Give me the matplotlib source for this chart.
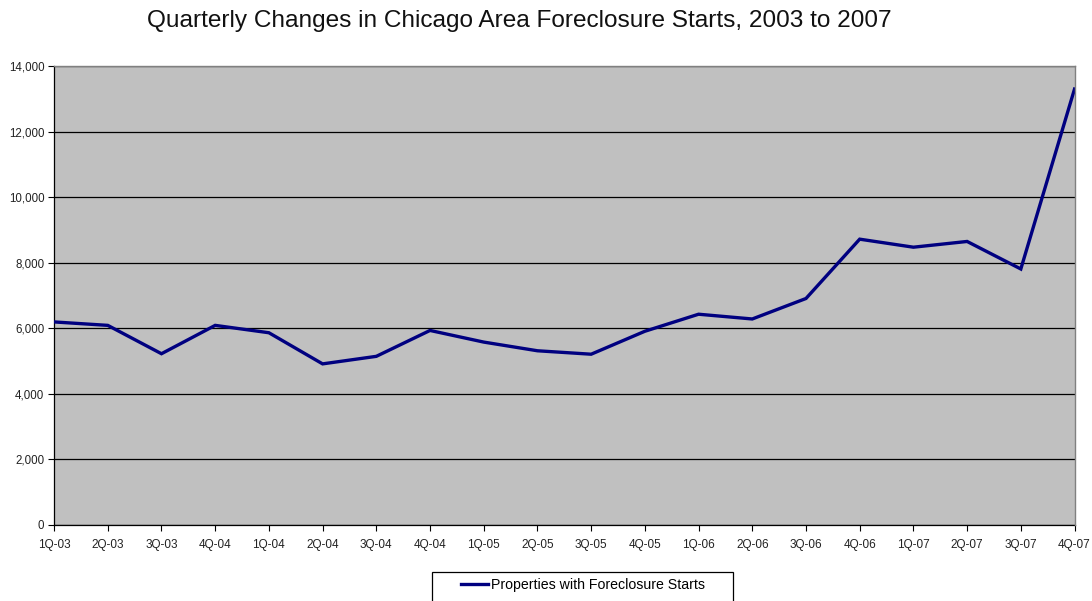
import matplotlib

matplotlib.use("Agg")
import matplotlib.pyplot as plt
from matplotlib.patches import Rectangle
from matplotlib.ticker import FuncFormatter

plt.rcParams["font.family"] = ["Liberation Sans", "DejaVu Sans"]

QUARTERS = ["1Q-03", "2Q-03", "3Q-03", "4Q-04", "1Q-04", "2Q-04", "3Q-04",
            "4Q-04", "1Q-05", "2Q-05", "3Q-05", "4Q-05", "1Q-06", "2Q-06",
            "3Q-06", "4Q-06", "1Q-07", "2Q-07", "3Q-07", "4Q-07"]
STARTS = [6195, 6090, 5225, 6090, 5865, 4915, 5145, 5935, 5580, 5315,
          5210, 5910, 6430, 6285, 6910, 8720, 8475, 8650, 7810, 13300]
Y_TICKS = list(range(0, 14001, 2000))

LINE_COLOR = "#000080"
PLOT_BG = "#c0c0c0"
BORDER = "#808080"
LABEL_INK = "#222222"

fig = plt.figure(figsize=(10.92, 6.01), dpi=100)
ax = fig.add_axes([0.0495, 0.1265, 0.9345, 0.7635])
ax.set_facecolor(PLOT_BG)

x = list(range(len(QUARTERS)))
ax.plot(x, STARTS, color=LINE_COLOR, lw=2.4, solid_joinstyle="miter",
        label="Properties with Foreclosure Starts", zorder=3)

ax.set_xlim(0, len(QUARTERS) - 1)
ax.set_ylim(0, 14000)
ax.set_xticks(x)
ax.set_xticklabels(QUARTERS)
ax.set_yticks(Y_TICKS)
ax.yaxis.set_major_formatter(FuncFormatter(lambda v, _: f"{int(v):,}"))
ax.tick_params(axis="y", labelsize=8.3, labelcolor=LABEL_INK,
               direction="out", length=4, width=0.8, pad=3)
ax.tick_params(axis="x", labelsize=8.5, labelcolor=LABEL_INK,
               direction="out", length=4, width=0.8, pad=6)
ax.grid(axis="y", color="black", lw=0.9)
ax.set_axisbelow(True)

for side in ("left", "bottom"):
    ax.spines[side].set_color("black")
    ax.spines[side].set_linewidth(0.9)
for side in ("top", "right"):
    ax.spines[side].set_color(BORDER)
    ax.spines[side].set_linewidth(1.0)
    ax.spines[side].set_zorder(4)

fig.suptitle("Quarterly Changes in Chicago Area Foreclosure Starts, 2003 to 2007",
             x=0.476, y=0.984, fontsize=17.6, color="#111111")

# legend box sits at the bottom edge and runs off the figure, as in the source
fig.patches.append(Rectangle((0.3956, -0.02), 0.2756, 0.0683,
                             transform=fig.transFigure, fill=False,
                             edgecolor="black", lw=0.9))
fig.legend(loc="center", bbox_to_anchor=(0.534, 0.027), fontsize=10.2,
           frameon=False, handlelength=1.9, handletextpad=0.2)

fig.savefig("out.png", dpi=100)
